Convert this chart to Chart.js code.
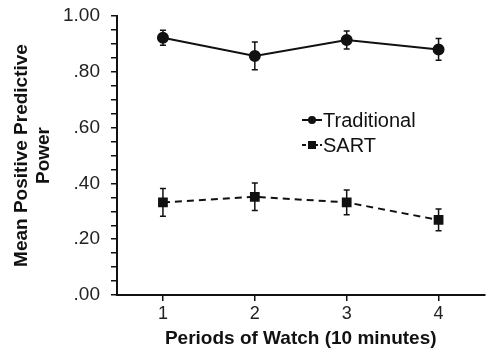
<!DOCTYPE html>
<html>
<head>
<meta charset="utf-8">
<script src="https://cdn.jsdelivr.net/npm/chart.js@4/dist/chart.umd.min.js"></script>
<style>
  html, body { margin: 0; padding: 0; background: #fff; }
  #wrap { width: 492px; height: 355px; }
</style>
</head>
<body>
<div id="wrap"><canvas id="ppvChart" width="492" height="355"></canvas></div>
<script>
const periods = ['1', '2', '3', '4'];
const traditional = [0.922, 0.857, 0.914, 0.880];
const traditionalErr = [0.027, 0.050, 0.032, 0.039];
const sart = [0.332, 0.352, 0.332, 0.269];
const sartErr = [0.050, 0.049, 0.044, 0.039];
const yTickLabels = ['.00', '.20', '.40', '.60', '.80', '1.00'];

const ink = '#111';
const fam = 'Arial, "Liberation Sans", sans-serif';

// error bars, drawn through the scales
const errorBars = {
    id: 'errorBars',
    afterDatasetsDraw(chart) {
        const { ctx, scales: { x, y } } = chart;
        const errs = [traditionalErr, sartErr];
        ctx.save();
        ctx.strokeStyle = ink;
        ctx.lineWidth = 1.5;
        chart.data.datasets.forEach((ds, di) => {
            ds.data.forEach((v, i) => {
                const px = x.getPixelForValue(i);
                const top = y.getPixelForValue(v + errs[di][i]);
                const bot = y.getPixelForValue(v - errs[di][i]);
                ctx.beginPath();
                ctx.moveTo(px, top); ctx.lineTo(px, bot);
                ctx.moveTo(px - 3, top); ctx.lineTo(px + 3, top);
                ctx.moveTo(px - 3, bot); ctx.lineTo(px + 3, bot);
                ctx.stroke();
            });
        });
        ctx.restore();
    }
};

// legend inside the plot, to the right
const insideLegend = {
    id: 'insideLegend',
    afterDraw(chart) {
        const { ctx } = chart;
        const items = [
            { label: 'Traditional', dash: [], shape: 'circle', y: 120 },
            { label: 'SART', dash: [4, 2], shape: 'square', y: 145 }
        ];
        ctx.save();
        ctx.fillStyle = ink;
        ctx.strokeStyle = ink;
        ctx.font = '20px ' + fam;
        ctx.textBaseline = 'middle';
        items.forEach(it => {
            ctx.lineWidth = 2;
            ctx.setLineDash(it.dash);
            ctx.beginPath();
            ctx.moveTo(302, it.y); ctx.lineTo(322, it.y);
            ctx.stroke();
            ctx.setLineDash([]);
            if (it.shape === 'circle') {
                ctx.beginPath();
                ctx.arc(312, it.y, 4, 0, Math.PI * 2);
                ctx.fill();
            } else {
                ctx.fillRect(308, it.y - 4, 8, 8);
            }
            ctx.fillText(it.label, 323, it.y + 1);
        });
        ctx.restore();
    }
};

const ctx = document.getElementById('ppvChart').getContext('2d');
new Chart(ctx, {
    type: 'line',
    data: {
        labels: periods,
        datasets: [
            {
                label: 'Traditional',
                data: traditional,
                borderColor: ink,
                backgroundColor: ink,
                borderWidth: 2,
                pointStyle: 'circle',
                pointRadius: 5,
                tension: 0
            },
            {
                label: 'SART',
                data: sart,
                borderColor: ink,
                backgroundColor: ink,
                borderWidth: 2,
                borderDash: [7, 5],
                pointStyle: 'rect',
                pointRadius: 5.5,
                tension: 0
            }
        ]
    },
    options: {
        responsive: false,
        animation: false,
        layout: { padding: { top: 16, right: 4, left: 10, bottom: 0 } },
        plugins: {
            legend: { display: false },
            tooltip: { enabled: false }
        },
        scales: {
            x: {
                type: 'category',
                offset: true,
                grid: {
                    offset: false,
                    drawOnChartArea: false,
                    drawTicks: true,
                    tickLength: 6,
                    color: ink,
                    lineWidth: 1.5
                },
                border: { color: ink, width: 2 },
                ticks: {
                    color: '#222',
                    font: { size: 18, family: fam },
                    padding: 2
                },
                title: {
                    display: true,
                    text: 'Periods of Watch (10 minutes)',
                    color: ink,
                    font: { size: 19, weight: 'bold', family: fam },
                    padding: { top: 0, bottom: 5 }
                },
                afterFit(scale) {
                    scale.height = 60;
                    scale.paddingLeft = 0;
                    scale.paddingRight = 0;
                }
            },
            y: {
                min: 0,
                max: 1,
                grid: {
                    drawOnChartArea: false,
                    drawTicks: true,
                    tickLength: 6,
                    color: ink,
                    lineWidth: 1.5
                },
                border: { color: ink, width: 2 },
                ticks: {
                    stepSize: 0.05,
                    autoSkip: false,
                    color: '#222',
                    font: { size: 19, family: fam },
                    padding: 11,
                    callback(v) {
                        const k = Math.round(v * 100);
                        return k % 20 === 0 ? yTickLabels[k / 20] : '';
                    }
                },
                title: {
                    display: true,
                    text: ['Mean Positive Predictive', 'Power'],
                    color: ink,
                    font: { size: 19, weight: 'bold', family: fam, lineHeight: 1.2 },
                    padding: { top: 0, bottom: 6 }
                },
                afterFit(scale) {
                    scale.width = 107;
                    scale.paddingTop = 0;
                    scale.paddingBottom = 0;
                }
            }
        }
    },
    plugins: [errorBars, insideLegend]
});
</script>
</body>
</html>
